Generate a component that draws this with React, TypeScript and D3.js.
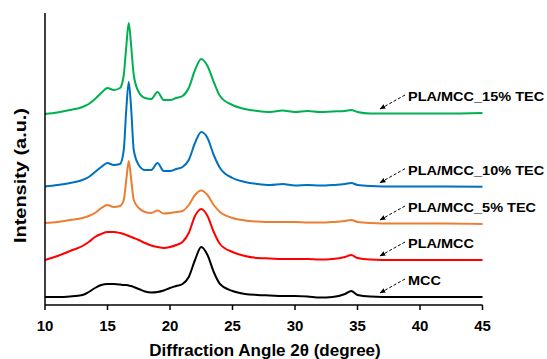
import React from "react";
import * as d3 from "d3";

// 2θ sampling points (degrees)
const angles = [
  10, 11, 12, 13, 13.5, 14, 14.5, 15, 15.5, 16, 16.3, 16.5, 16.7, 16.9, 17.1, 17.5, 18, 18.5, 19, 19.5,
  20, 20.5, 21, 21.5, 22, 22.5, 23, 23.5, 24, 25, 26, 27, 28, 29, 30, 31, 32, 33, 34, 34.5, 35, 36,
  38, 40, 42, 45,
];

// intensities (a.u., stacked offsets included)
const mcc = [
  8, 8, 8.5, 10, 13, 17, 20, 21, 21, 20.5, 20, 20, 19.5, 19, 18, 16, 13.5, 12.5, 13, 14.5,
  17, 19, 21, 28, 45, 58, 50, 33, 21, 14, 11, 10, 9.5, 9, 9, 8.5, 7.5, 8, 11, 14, 10, 8.5,
  8, 8, 8, 8,
];
const plaMcc = [
  45, 49, 54, 59, 63, 68, 71, 73, 73, 72, 71, 70, 69, 68, 67, 65, 62, 59.5, 58, 57,
  58, 60, 63, 72, 89, 96, 89, 73, 61, 53, 49, 47, 46.5, 46, 46, 46, 45.5, 46, 48, 50, 47, 45.5,
  45, 45, 45, 45,
];
const tec5 = [
  82, 83, 85, 87, 89, 92, 97, 100, 98, 99, 105, 125, 144, 125, 105, 97, 93, 92, 94.5, 91.5,
  92, 93, 94, 100, 110, 114.5, 110, 100, 93, 87, 84.5, 83.5, 83, 83, 83, 82.5, 82.5, 83, 84, 85, 83, 82,
  81.5, 81.5, 81.5, 81,
];
const tec10 = [
  118.5, 120, 122, 125, 128, 133, 138, 142, 140, 141, 155, 195, 223, 195, 155, 140, 135, 135, 142, 134,
  134, 136, 138, 145, 162, 173, 167, 150, 137, 127, 123, 121, 120, 121, 119.5, 120, 119.5, 120, 121, 122, 120, 119,
  118.5, 118.5, 118.5, 118.3,
];
const tec15 = [
  191, 192.5, 195, 198, 201, 206, 212, 217, 215, 217, 230, 258, 282, 258, 230, 213, 207, 206, 213, 205,
  205, 207, 209, 217, 235, 246, 239, 223, 209, 200, 196, 194, 193, 194.5, 193, 194, 193, 193.5, 194, 195, 193, 191.5,
  191.5, 191.5, 191.5, 192,
];

const seriesValues = [mcc, plaMcc, tec5, tec10, tec15];
const seriesNames = ["MCC", "PLA/MCC", "PLA/MCC_5% TEC", "PLA/MCC_10% TEC", "PLA/MCC_15% TEC"];
const seriesColors = ["#000000", "#ff0000", "#ed7d31", "#0070c0", "#00b050"];
const xTicks = [10, 15, 20, 25, 30, 35, 40, 45];

const W = 547;
const H = 359;
const FONT = "'Liberation Sans', Arial, sans-serif";

export default function App() {
  const x = d3.scaleLinear().domain([10, 45]).range([45, 482.5]);
  const y = d3.scaleLinear().domain([0, 292]).range([305, 13]);

  const line = d3
    .line<number>()
    .x((_, i) => x(angles[i]))
    .y((d) => y(d))
    .curve(d3.curveMonotoneX);

  const arrowAngle = 36.8;

  return (
    <svg
      width={W}
      height={H}
      style={{ position: "absolute", left: 0, top: 0, background: "#fff" }}
      fontFamily={FONT}
    >
      <defs>
        <marker id="head" viewBox="0 0 10 10" refX="9" refY="5" markerWidth="6" markerHeight="6" orient="auto">
          <path d="M0,1 L10,5 L0,9 z" fill="#000" />
        </marker>
      </defs>

      {seriesValues.map((vals, i) => (
        <path key={i} d={line(vals) || ""} fill="none" stroke={seriesColors[i]} strokeWidth={2} strokeLinejoin="round" />
      ))}

      {/* axes */}
      <line x1={x(10)} x2={x(10)} y1={y(292)} y2={y(0)} stroke="#000" strokeWidth={1.5} />
      <line x1={x(10)} x2={x(45)} y1={y(0)} y2={y(0)} stroke="#000" strokeWidth={1.5} />
      {xTicks.map((t) => (
        <g key={t}>
          <line x1={x(t)} x2={x(t)} y1={y(0)} y2={y(0) + 5} stroke="#000" strokeWidth={1.5} />
          <text x={x(t)} y={331} textAnchor="middle" fontSize={15} fontWeight="bold">
            {t}
          </text>
        </g>
      ))}

      <text x={265} y={356} textAnchor="middle" fontSize={17} fontWeight="bold">
        Diffraction Angle 2θ (degree)
      </text>
      <text
        transform="translate(26,175.5) rotate(-90)"
        textAnchor="middle"
        fontSize={17}
        fontWeight="bold"
        textLength={135}
        lengthAdjust="spacingAndGlyphs"
      >
        Intensity (a.u.)
      </text>

      {/* series labels with dashed arrows */}
      {seriesValues.map((vals, i) => {
        const end = vals[vals.length - 1];
        const tipX = x(arrowAngle);
        const tipY = y(end) - 4;
        const tailX = tipX + 25;
        const tailY = tipY - 14;
        return (
          <g key={seriesNames[i]}>
            <line
              x1={tailX}
              y1={tailY}
              x2={tipX}
              y2={tipY}
              stroke="#000"
              strokeWidth={1}
              strokeDasharray="3,2"
              markerEnd="url(#head)"
            />
            <text
              transform={`translate(${tailX + 3},${y(end) - 12}) scale(1.21,1)`}
              fontSize={12}
              fontWeight="bold"
            >
              {seriesNames[i]}
            </text>
          </g>
        );
      })}
    </svg>
  );
}
